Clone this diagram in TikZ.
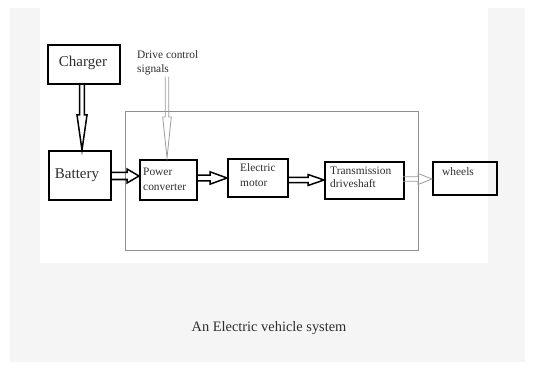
\documentclass[tikz,border=0pt]{standalone}
\usepackage{fontspec}
\setmainfont{Liberation Serif}
\usetikzlibrary{calc}
\definecolor{txt}{HTML}{2E2E2E}
\definecolor{framegrey}{HTML}{8E8E8E}
\definecolor{lightarr}{HTML}{9C9C9C}
\definecolor{bgpanel}{HTML}{F5F5F5}
\newcommand\blkarrowh[6]{%
  \draw[#1] let \p1=(#2), \p2=(#3) in
    (\x1,\y1+#4pt) -- (\x2-#6pt,\y1+#4pt) -- (\x2-#6pt,\y1+#5pt) -- (\x2,\y1)
    -- (\x2-#6pt,\y1-#5pt) -- (\x2-#6pt,\y1-#4pt) -- (\x1,\y1-#4pt);}
\newcommand\blkarrowv[6]{%
  \draw[#1] let \p1=(#2), \p2=(#3) in
    (\x1-#4pt,\y1) -- (\x1-#4pt,\y2+#6pt) -- (\x1-#5pt,\y2+#6pt) -- (\x1,\y2)
    -- (\x1+#5pt,\y2+#6pt) -- (\x1+#4pt,\y2+#6pt) -- (\x1+#4pt,\y1);}
\begin{document}
\begin{tikzpicture}[x=1pt,y=-1pt,
  boxst/.style={draw=black, line width=1.6pt, rectangle, inner sep=0pt, anchor=north west},
  lbl/.style={text=txt, inner sep=0pt, font=\fontsize{11.4}{14}\selectfont},
  biglbl/.style={text=txt, inner sep=0pt, font=\fontsize{15}{18}\selectfont},
  heavyarr/.style={draw=black, line width=1.5pt, line join=miter},
  lightarrow/.style={draw=lightarr, line width=0.8pt, line join=miter}]
% background
\fill[white] (0,0) rectangle (534,371);
\fill[bgpanel] (10,8) rectangle (40,362);
\fill[bgpanel] (488,8) rectangle (525,362);
\fill[bgpanel] (10,263) rectangle (525,362);
\useasboundingbox (0,0) rectangle (534,371);
% outer frame
\draw[framegrey, line width=0.9pt] (125,111) rectangle (418,250);
% boxes
\node[boxst, minimum width=72pt, minimum height=39pt] (charger) at (47,44) {};
\node[boxst, minimum width=62pt, minimum height=49pt] (battery) at (48,150) {};
\node[boxst, minimum width=57pt, minimum height=40pt] (pc) at (139,159) {};
\node[boxst, minimum width=60pt, minimum height=38pt] (em) at (227,158) {};
\node[boxst, minimum width=79pt, minimum height=37pt] (td) at (324,161) {};
\node[boxst, minimum width=64pt, minimum height=33pt] (wh) at (432,161) {};
% texts
\node[biglbl] (chargertxt) at (83,63) {Charger};
\node[biglbl] (batterytxt) at (77,175) {Battery};
\node[lbl, anchor=west] (pc1) at (143,172) {Power};
\node[lbl, anchor=west] (pc2) at (143,187) {converter};
\node[lbl, anchor=west] (em1) at (240,168) {Electric};
\node[lbl, anchor=west] (em2) at (240,183) {motor};
\node[lbl, anchor=west] (td1) at (330,171) {Transmission};
\node[lbl, anchor=west] (td2) at (330,184) {driveshaft};
\node[lbl, anchor=west] (wh1) at (442,172) {wheels};
\node[lbl, anchor=west] (dc1) at (137,55) {Drive control};
\node[lbl, anchor=west] (dc2) at (137,70) {signals};
\node[text=txt, inner sep=0pt, font=\fontsize{14.4}{17}\selectfont] (caption) at (269,328) {An Electric vehicle system};
% connector anchors
\coordinate (dcstart) at (167,77);
\coordinate (chgout) at (82,83);
\coordinate (batin) at (82,150);
\coordinate (batout) at (110,176);
\coordinate (pcout) at (196,178);
\coordinate (emout) at (287,180);
\coordinate (tdout) at (403,179);
\coordinate (pcin) at (139,176);
\coordinate (emin) at (227,178);
\coordinate (tdin) at (324,180);
\coordinate (whin) at (432,179);
\coordinate (pctop) at (167,158);
% arrows
\blkarrowv{heavyarr}{chgout}{batin}{2.3}{5}{35}
\blkarrowv{lightarrow}{dcstart}{pctop}{1.7}{4.3}{41}
\blkarrowh{heavyarr}{batout}{pcin}{3.5}{7}{12}
\blkarrowh{heavyarr}{pcout}{emin}{2.8}{6.2}{17}
\blkarrowh{heavyarr}{emout}{tdin}{2.5}{5.5}{16}
\blkarrowh{lightarrow}{tdout}{whin}{2.2}{5.5}{14}
\end{tikzpicture}
\end{document}
